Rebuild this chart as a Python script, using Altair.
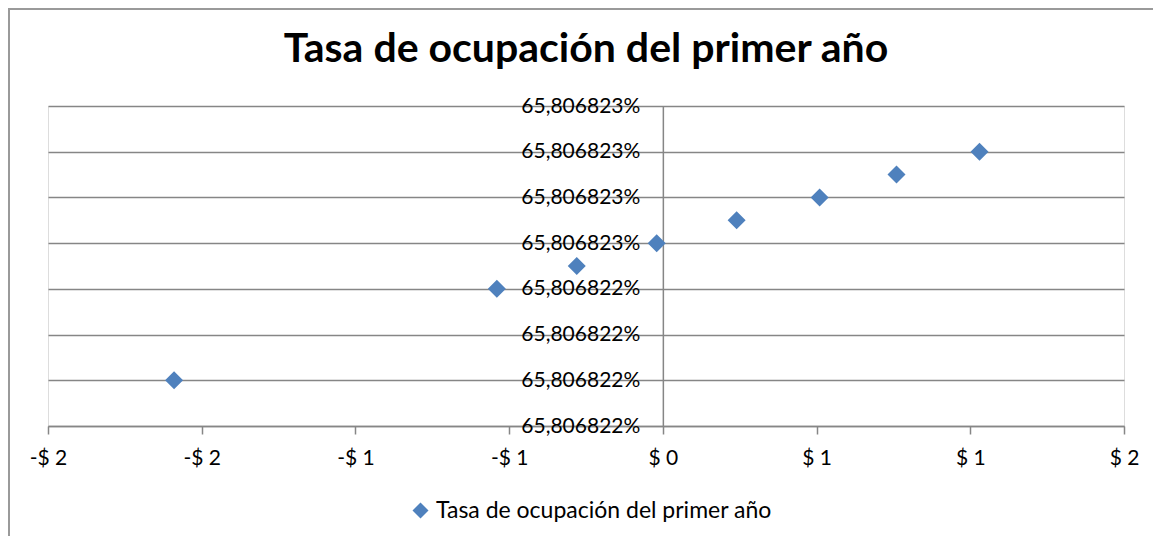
import altair as alt
import pandas as pd

serie = "Tasa de ocupación del primer año"
x_vals = [-1.59, -0.54, -0.28, -0.02, 0.24, 0.51, 0.76, 1.03]
y_vals = [65.80682225, 65.80682245, 65.80682250, 65.80682255,
          65.80682260, 65.80682265, 65.80682270, 65.80682275]
x_ticks = [-2.0, -1.5, -1.0, -0.5, 0.0, 0.5, 1.0, 1.5]
y_ticks = [65.80682215, 65.80682225, 65.80682235, 65.80682245,
           65.80682255, 65.80682265, 65.80682275, 65.80682285]

W, H = 1076, 320
x0_px = W * (0 - x_ticks[0]) / (x_ticks[-1] - x_ticks[0])

df = pd.DataFrame({"x": x_vals, "y": y_vals, "serie": [serie] * len(x_vals)})

GRAY = "#868686"
BLUE = "#4F81BD"
FONT = "Lato"

x_enc = alt.X(
    "x:Q",
    scale=alt.Scale(domain=[x_ticks[0], x_ticks[-1]], nice=False, zero=False),
    axis=alt.Axis(
        values=x_ticks,
        labelExpr="(datum.value < 0 ? '-$ ' : '$ ') + round(abs(datum.value))",
        title=None, grid=False, ticks=True, tickSize=8, tickColor=GRAY,
        tickWidth=1.5, domainColor=GRAY, domainWidth=1.5, labelFont=FONT,
        labelFontSize=21, labelColor="#000000", labelPadding=13,
        labelFlush=False, labelOverlap=False,
    ),
)
y_enc = alt.Y(
    "y:Q",
    scale=alt.Scale(domain=[y_ticks[0], y_ticks[-1]], nice=False, zero=False),
    axis=alt.Axis(
        values=y_ticks,
        labelExpr="replace(format(datum.value, '.6f'), '.', ',') + '%'",
        title=None, grid=True, gridColor=GRAY, gridWidth=1.5, ticks=False,
        domainColor=GRAY, domainWidth=1.5, offset=-x0_px, labelPadding=23,
        labelFont=FONT, labelFontSize=21, labelColor="#000000",
        labelOverlap=False, labelFlush=False,
    ),
)

points = alt.Chart(df).mark_point(
    shape="diamond", filled=True, size=324, opacity=1, strokeWidth=0
).encode(
    x=x_enc,
    y=y_enc,
    color=alt.Color(
        "serie:N",
        scale=alt.Scale(range=[BLUE]),
        legend=alt.Legend(
            title=None, orient="none", legendX=361, legendY=393,
            symbolType="diamond", symbolSize=256, symbolStrokeWidth=0,
            labelFont=FONT, labelFontSize=23, labelColor="#000000",
            labelOffset=4, padding=0, labelLimit=0,
        ),
    ),
)

border = alt.Chart(pd.DataFrame({"b": [0]})).mark_rect(
    fill=None, stroke="#9a9a9a", strokeWidth=2
).encode(
    x=alt.value(-39), x2=alt.value(W + 200),
    y=alt.value(-97), y2=alt.value(H + 300),
)

chart = alt.layer(points, border).properties(
    width=W, height=H,
    title=alt.TitleParams(
        serie, font=FONT, fontSize=41, fontWeight="bold", color="#000000",
        anchor="middle", baseline="alphabetic", offset=-95,
    ),
    autosize=alt.AutoSizeParams(type="none"),
    padding={"left": 40, "top": 98, "right": 29, "bottom": 110},
).configure_view(stroke=None).configure(background="white")

chart.save("out.html", embed_options={"renderer": "svg", "actions": False})
